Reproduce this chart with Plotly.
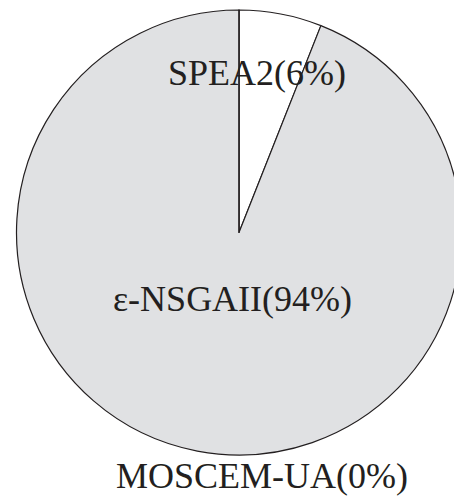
import plotly.graph_objects as go

# Data
labels = ["SPEA2", "ε-NSGAII", "MOSCEM-UA"]
values = [6, 94, 0]
colors = ["#ffffff", "#e0e1e3", "#e0e1e3"]

# Label placement (pixel centres within the figure)
label_px = [(257, 73), (232, 299), (262, 476)]

W, H = 470, 498
cx, cy, r = 239, 232.5, 222.5

fig = go.Figure(
    go.Pie(
        labels=labels,
        values=values,
        sort=False,
        direction="clockwise",
        rotation=0,
        marker=dict(colors=colors, line=dict(color="#231f20", width=1.2)),
        textinfo="none",
        hoverinfo="label+percent",
        showlegend=False,
        domain=dict(x=[(cx - r) / W, (cx + r) / W], y=[1 - (cy + r) / H, 1 - (cy - r) / H]),
    )
)

annotations = []
for lab, val, (px, py) in zip(labels, values, label_px):
    annotations.append(
        dict(
            text=f"{lab}({val}%)",
            x=px / W,
            y=1 - py / H,
            xref="paper",
            yref="paper",
            xanchor="center",
            yanchor="middle",
            showarrow=False,
            font=dict(family="Liberation Serif", size=36, color="#231f20"),
        )
    )

fig.update_layout(
    width=W,
    height=H,
    autosize=False,
    margin=dict(l=0, r=0, t=0, b=0),
    paper_bgcolor="white",
    plot_bgcolor="white",
    annotations=annotations,
)

fig.write_html(
    "out.html",
    config={"displayModeBar": False},
    post_script="document.body.style.margin='0';document.body.style.overflow='hidden';document.documentElement.style.overflow='hidden';",
)
